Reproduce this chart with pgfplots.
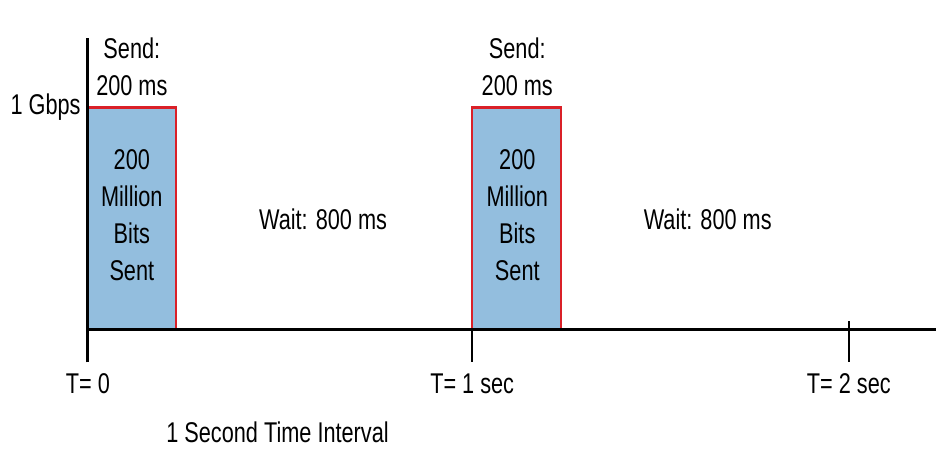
\documentclass[border=0pt]{standalone}
\usepackage{pgfplots}
\pgfplotsset{compat=1.18}
\usepackage{fontspec}
\setmainfont{Liberation Sans}[FakeStretch=0.76]
\definecolor{barblue}{RGB}{147,190,222}
\definecolor{barred}{RGB}{218,32,40}
\begin{document}
\begin{tikzpicture}
\begin{axis}[
  scale only axis,
  width=424.5pt, height=162.6pt,
  xmin=0, xmax=2.2167, ymin=-0.15, ymax=1.315,
  axis y line=left, axis x line=middle,
  x axis line style={-, line width=1.5pt},
  y axis line style={-, line width=1.5pt},
  xtick=\empty,
  ytick={1}, yticklabels={1 Gbps},
  ytick style={draw=none},
  yticklabel style={font=\fontsize{14.3}{17}\selectfont, xshift=2pt},
  axis on top,
  clip=false,
  /pgf/number format/assume math mode=true,
]
\addplot[fill=barblue, draw=barred, line width=1.1pt] coordinates {(0,0) (0,1) (0.23,1) (0.23,0)} -- cycle;
\addplot[fill=barblue, draw=barred, line width=1.1pt] coordinates {(1.005,0) (1.005,1) (1.237,1) (1.237,0)} -- cycle;
\addplot[black, line width=1.3pt] coordinates {(1.005,0) (1.005,-0.15)};
\addplot[black, line width=1.3pt] coordinates {(1.99,0.036) (1.99,-0.15)};
\begin{scope}[every node/.style={font=\fontsize{14.3}{18.5}\selectfont, align=center, inner sep=0pt}]
\node at (axis cs:0.115,1.185) {Send:\\200 ms};
\node at (axis cs:1.123,1.185) {Send:\\200 ms};
\node at (axis cs:0.115,0.514) {200\\Million\\Bits\\Sent};
\node at (axis cs:1.123,0.514) {200\\Million\\Bits\\Sent};
\node at (axis cs:0.615,0.495) {Wait: 800 ms};
\node at (axis cs:1.621,0.495) {Wait: 800 ms};
\node at (axis cs:0,-0.248) {T= 0};
\node at (axis cs:1.005,-0.248) {T= 1 sec};
\node at (axis cs:1.99,-0.248) {T= 2 sec};
\node at (axis cs:0.496,-0.464) {1 Second Time Interval};
\end{scope}
\end{axis}
\path (current axis.south west) ++(-44pt,-44pt) rectangle ++(468.5pt,225.5pt);
\end{tikzpicture}
\end{document}
